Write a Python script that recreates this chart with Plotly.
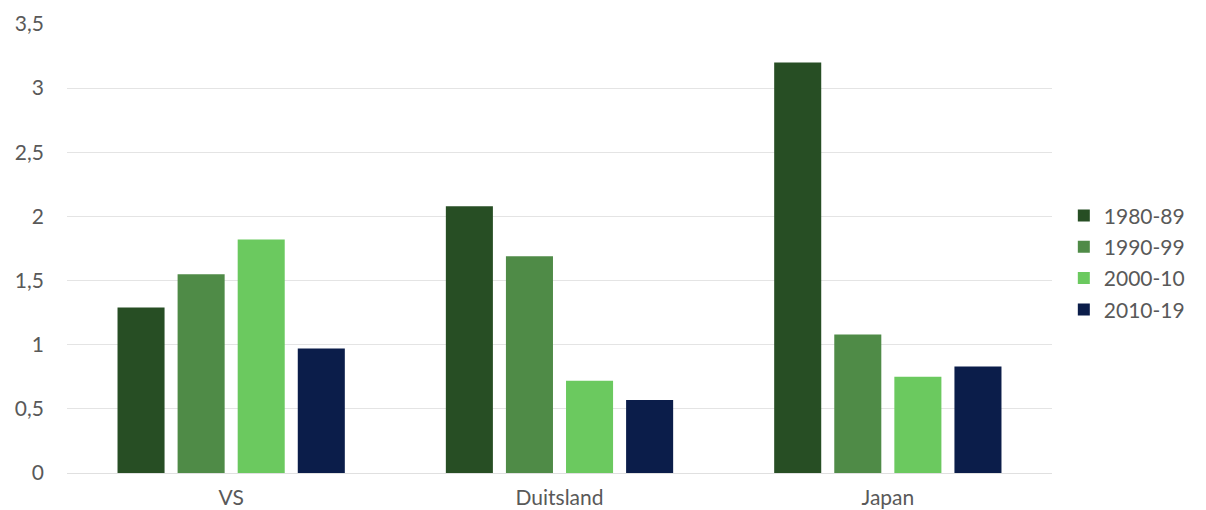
import plotly.graph_objects as go

categories = ["VS", "Duitsland", "Japan"]
series_names = ["1980-89", "1990-99", "2000-10", "2010-19"]
v_1980 = [1.29, 2.08, 3.20]
v_1990 = [1.55, 1.69, 1.08]
v_2000 = [1.82, 0.72, 0.75]
v_2010 = [0.97, 0.57, 0.83]
colors = ["#274E24", "#4F8B47", "#6BC95F", "#0B1D4A"]

fig = go.Figure()
for name, vals, col in zip(series_names, [v_1980, v_1990, v_2000, v_2010], colors):
    fig.add_trace(go.Bar(x=categories, y=vals, name=name, marker_color=col,
                         marker_line_width=0, legendgroup=name))

fig.update_layout(
    width=1206, height=510,
    margin=dict(l=67, r=154, t=24, b=37, autoexpand=False),
    plot_bgcolor="white", paper_bgcolor="white",
    barmode="group", bargap=0.268, bargroupgap=0.217,
    separators=", ",
    font=dict(family="Lato", color="#595959", size=21),
    legend=dict(x=1.012, y=0.468, xanchor="left", yanchor="middle",
                font=dict(size=21, color="#595959"), tracegroupgap=1,
                itemwidth=30),
    xaxis=dict(showgrid=False, showline=False, ticks="", ticklabelstandoff=10,
               tickfont=dict(size=21), automargin=False),
    yaxis=dict(range=[0, 3.5], dtick=0.5, showgrid=True, gridcolor="#E4E4E4",
               gridwidth=1, zeroline=True, zerolinecolor="#E0E0E0", zerolinewidth=1,
               ticks="", ticklabelstandoff=22, tickfont=dict(size=21), automargin=False),
)

fig.write_html("out.html")
